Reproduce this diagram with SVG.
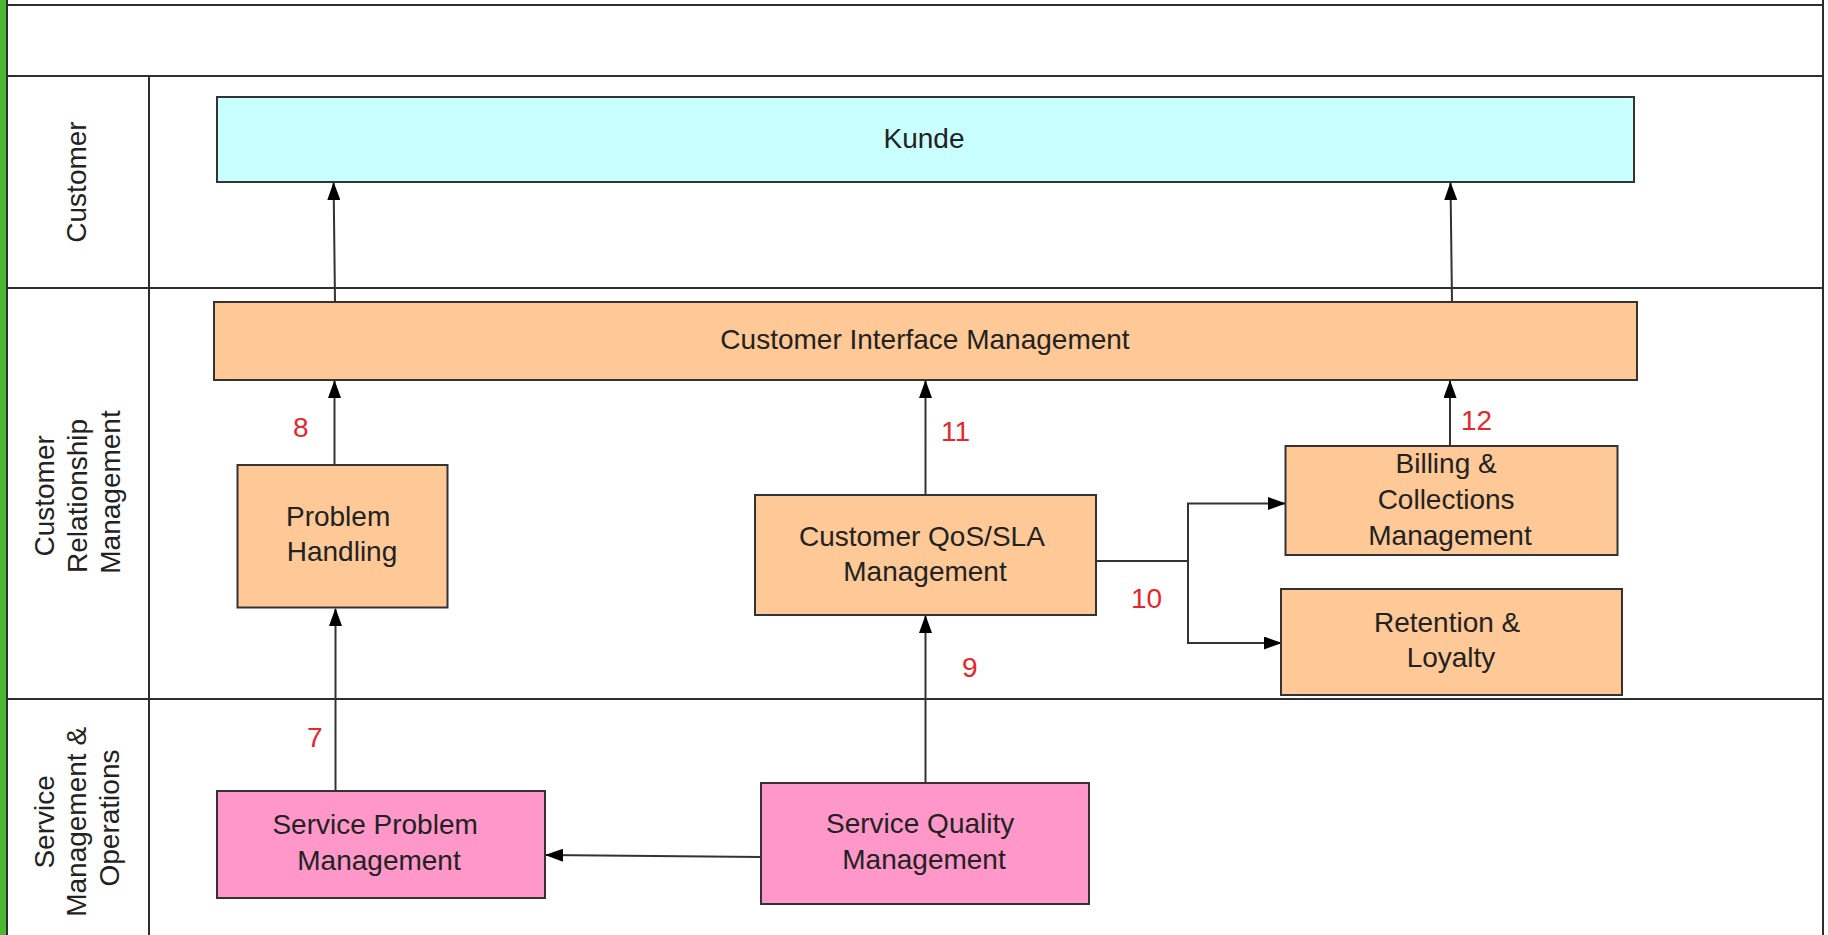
<svg xmlns="http://www.w3.org/2000/svg" width="1828" height="935" viewBox="0 0 1828 935">
  <style>
    .lane { stroke: #2e2e2e; stroke-width: 2; fill: none; }
    .node { stroke: #333333; stroke-width: 2; }
    .cust { fill: #c9ffff; }
    .crm { fill: #fec996; }
    .smo { fill: #ff97c9; }
    .lbl { font-family: "Liberation Sans", Arial, sans-serif; font-size: 28px; fill: #222222; text-anchor: middle; }
    .num { font-family: "Liberation Sans", Arial, sans-serif; font-size: 28px; fill: #e5262d; }
    .conn { stroke: #333333; stroke-width: 2; fill: none; marker-end: url(#arrow); }
  </style>
  <defs>
    <marker id="arrow" markerUnits="userSpaceOnUse" markerWidth="18" markerHeight="13" refX="17" refY="6.5" orient="auto">
      <path d="M0,0 L18,6.5 L0,13 z" fill="#000000"/>
    </marker>
  </defs>

  <rect x="0" y="0" width="1828" height="935" fill="#ffffff"/>

  <!-- swimlane frame -->
  <g id="frame">
    <rect x="0" y="0" width="6" height="935" fill="#4cb832"/>
    <line class="lane" x1="7" y1="0" x2="7" y2="935"/>
    <line class="lane" x1="1823" y1="0" x2="1823" y2="935"/>
    <line class="lane" x1="7" y1="5" x2="1823" y2="5"/>
    <line class="lane" x1="7" y1="76" x2="1823" y2="76"/>
    <line class="lane" x1="7" y1="288" x2="1823" y2="288"/>
    <line class="lane" x1="7" y1="699" x2="1823" y2="699"/>
    <line class="lane" x1="149" y1="76" x2="149" y2="935"/>
  </g>

  <!-- lane titles -->
  <g id="lane-customer">
    <text class="lbl" transform="translate(86,182) rotate(-90)">Customer</text>
  </g>
  <g id="lane-crm">
    <text class="lbl" transform="translate(53.5,492) rotate(-90)">
      <tspan x="0" dy="0">Customer</tspan>
      <tspan x="0" dy="33">Relationship</tspan>
      <tspan x="0" dy="33">Management</tspan>
    </text>
  </g>
  <g id="lane-smo">
    <text class="lbl" transform="translate(53.5,818) rotate(-90)">
      <tspan x="0" dy="0">Service</tspan>
      <tspan x="0" dy="32.5">Management &amp;</tspan>
      <tspan x="0" dy="32.5">Operations</tspan>
    </text>
  </g>

  <!-- connectors -->
  <g id="connectors">
    <path class="conn" d="M335,302 L333.6,183"/>
    <path class="conn" d="M1452,302 L1450.5,183"/>
    <path class="conn" d="M334.5,465 L334.5,381"/>
    <path class="conn" d="M335.5,791 L335.5,609"/>
    <path class="conn" d="M925.5,495 L925.5,381"/>
    <path class="conn" d="M925.5,783 L925.5,616"/>
    <path class="conn" d="M1450,446 L1450,381"/>
    <path class="conn" d="M1096,561 H1188 V503.5 H1285"/>
    <path class="conn" d="M1188,561 V643 H1281"/>
    <path class="conn" d="M761,857 L546,855"/>
  </g>

  <!-- flow numbers -->
  <g id="flow-numbers">
    <text class="num" x="307" y="747">7</text>
    <text class="num" x="293" y="437">8</text>
    <text class="num" x="962" y="677">9</text>
    <text class="num" x="1131" y="608">10</text>
    <text class="num" x="941" y="441">11</text>
    <text class="num" x="1461" y="430">12</text>
  </g>

  <!-- nodes -->
  <g id="kunde">
    <rect class="node cust" x="217" y="97" width="1417" height="85"/>
    <text class="lbl" x="924" y="148">Kunde</text>
  </g>
  <g id="customer-interface-management">
    <rect class="node crm" x="214" y="302" width="1423" height="78"/>
    <text class="lbl" x="925" y="349">Customer Interface Management</text>
  </g>
  <g id="problem-handling">
    <rect class="node crm" x="237.5" y="465" width="210" height="142.5"/>
    <text class="lbl" x="342" y="526">
      <tspan x="342" dy="0">Problem</tspan>
      <tspan x="342" dy="35">Handling</tspan>
    </text>
  </g>
  <g id="customer-qos-sla-management">
    <rect class="node crm" x="755" y="495" width="341" height="120"/>
    <text class="lbl" x="925" y="546">
      <tspan x="925" dy="0">Customer QoS/SLA</tspan>
      <tspan x="925" dy="35">Management</tspan>
    </text>
  </g>
  <g id="billing-collections-management">
    <rect class="node crm" x="1285.5" y="446" width="332" height="109"/>
    <text class="lbl" x="1450" y="473">
      <tspan x="1450" dy="0">Billing &amp;</tspan>
      <tspan x="1450" dy="36">Collections</tspan>
      <tspan x="1450" dy="35.5">Management</tspan>
    </text>
  </g>
  <g id="retention-loyalty">
    <rect class="node crm" x="1281" y="589" width="341" height="106"/>
    <text class="lbl" x="1451" y="632">
      <tspan x="1451" dy="0">Retention &amp;</tspan>
      <tspan x="1451" dy="35">Loyalty</tspan>
    </text>
  </g>
  <g id="service-problem-management">
    <rect class="node smo" x="217" y="791" width="328" height="107"/>
    <text class="lbl" x="379" y="834">
      <tspan x="379" dy="0">Service Problem</tspan>
      <tspan x="379" dy="36">Management</tspan>
    </text>
  </g>
  <g id="service-quality-management">
    <rect class="node smo" x="761" y="783" width="328" height="121"/>
    <text class="lbl" x="924" y="833">
      <tspan x="924" dy="0">Service Quality</tspan>
      <tspan x="924" dy="36">Management</tspan>
    </text>
  </g>
</svg>
